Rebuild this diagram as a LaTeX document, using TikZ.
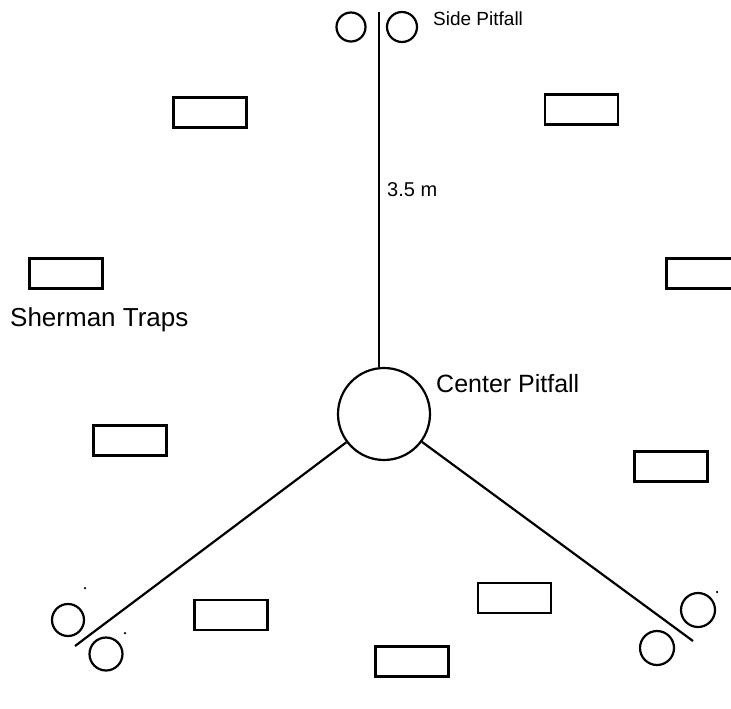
\documentclass[tikz,border=0pt]{standalone}
\usepackage{fontspec}
\setmainfont{Liberation Sans}
\begin{document}
\begin{tikzpicture}[x=1pt,y=-1pt,
  trap/.style={draw, line width=2.6pt, minimum width=73pt, minimum height=30pt, inner sep=0pt},
  pit/.style={draw, circle, line width=2.2pt, inner sep=0pt},
  lbl/.style={inner sep=0pt, anchor=west},
  wire/.style={line width=2.2pt},
  speck/.style={fill, circle, inner sep=0pt, minimum size=2.5pt}]
\useasboundingbox (0,0) rectangle (731,709);
% Sherman traps
\node[trap] (t1) at (210,112.5) {};
\node[trap] (t2) at (581.5,109.5) {};
\node[trap] (t3) at (66,273.5) {};
\node[trap] (t4) at (703,273.5) {};
\node[trap] (t5) at (130,440.5) {};
\node[trap] (t6) at (671,466.5) {};
\node[trap] (t7) at (231,615) {};
\node[trap] (t8) at (514.5,598) {};
\node[trap] (t9) at (412,661.5) {};
% pitfalls
\node[pit, minimum size=92pt] (cp) at (384,414) {};
\node[pit, minimum size=29pt] (s1) at (351,27) {};
\node[pit, minimum size=30pt] (s2) at (402,27) {};
\node[pit, minimum size=32pt] (s3) at (68,620) {};
\node[pit, minimum size=33pt] (s4) at (106,654) {};
\node[pit, minimum size=34pt] (s5) at (698,610) {};
\node[pit, minimum size=34pt] (s6) at (657,648) {};
% lines
\coordinate (vt) at (379,12);
\coordinate (eL) at (75,646);
\coordinate (eR) at (693,641);
\draw[wire] (vt) -- (vt |- cp.north);
\draw[wire] (cp) -- (eL);
\draw[wire] (cp) -- (eR);
% specks
\node[speck] (d1) at (85,588) {};
\node[speck] (d2) at (125,633) {};
\node[speck] (d3) at (717,592) {};
% labels
\node[lbl, font=\fontsize{19}{22}\selectfont] (l1) at (433,19) {Side Pitfall};
\node[lbl, font=\fontsize{20}{24}\selectfont] (l2) at (387,190) {3.5 m};
\node[lbl, font=\fontsize{26}{30}\selectfont] (l3) at (10,320) {Sherman Traps};
\node[lbl, font=\fontsize{25}{29}\selectfont] (l4) at (436,384) {Center Pitfall};
\end{tikzpicture}
\end{document}
